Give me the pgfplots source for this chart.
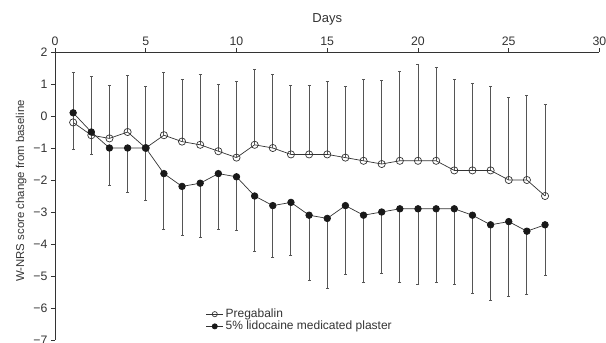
\documentclass[border=0pt]{standalone}
\usepackage{fontspec}
\setmainfont{Liberation Sans}
\usepackage{pgfplots}
\pgfplotsset{compat=1.18}
\usepackage{pgfplotstable}

\pgfplotstableread{
x y e
1 -0.2 1.57
2 -0.6 1.85
3 -0.7 1.67
4 -0.5 1.78
5 -1.0 1.92
6 -0.6 1.95
7 -0.8 1.94
8 -0.9 2.19
9 -1.1 2.09
10 -1.3 2.38
11 -0.9 2.36
12 -1.0 2.30
13 -1.2 2.17
14 -1.2 2.16
15 -1.2 2.27
16 -1.3 2.23
17 -1.4 2.53
18 -1.5 2.61
19 -1.4 2.78
20 -1.4 3.00
21 -1.4 2.92
22 -1.7 2.85
23 -1.7 2.73
24 -1.7 2.63
25 -2.0 2.58
26 -2.0 2.63
27 -2.5 2.86
}\pregabalin

\pgfplotstableread{
x y e
1 0.1 1.14
2 -0.5 0.69
3 -1.0 1.16
4 -1.0 1.40
5 -1.0 1.64
6 -1.8 1.75
7 -2.2 1.52
8 -2.1 1.70
9 -1.8 1.75
10 -1.9 1.68
11 -2.5 1.72
12 -2.8 1.63
13 -2.7 1.66
14 -3.1 2.05
15 -3.2 2.20
16 -2.8 2.14
17 -3.1 2.11
18 -3.0 1.91
19 -2.9 2.31
20 -2.9 2.35
21 -2.9 2.31
22 -2.9 2.35
23 -3.1 2.44
24 -3.4 2.35
25 -3.3 2.34
26 -3.6 1.98
27 -3.4 1.57
}\lidocaine

\definecolor{ln}{HTML}{333333}
\definecolor{eb}{HTML}{555555}

\begin{document}
\begin{tikzpicture}
\begin{axis}[
  scale only axis, width=544.5pt, height=288pt,
  xmin=0, xmax=30, ymin=-7, ymax=2,
  axis x line*=top, axis y line*=left,
  axis line style={ln, line width=0.8pt},
  xtick={0,5,...,30}, ytick={-7,-6,...,2},
  xticklabels={0,5,10,15,20,25,30},
  yticklabels={−7,−6,−5,−4,−3,−2,−1,0,1,2},
  tick align=outside, tick style={ln, line width=0.8pt},
  major tick length=4pt,
  tick label style={font=\fontsize{12.3}{14}\selectfont, text=ln},
  xticklabel style={yshift=-1pt},
  xlabel={Days},
  xlabel style={font=\fontsize{13}{15}\selectfont, text=ln, yshift=5pt},
  ylabel={W-NRS score change from baseline},
  ylabel style={font=\fontsize{11.4}{13}\selectfont, text=ln, at={(ticklabel cs:0.517)}},
  clip=false,
  legend style={draw=none, fill=none, at={(0.275,0.022)}, anchor=south west,
    font=\fontsize{12}{14}\selectfont, text=ln, row sep=0pt,
    inner sep=1pt, nodes={inner xsep=2pt, inner ysep=1pt}},
  legend cell align=left,
  legend image code/.code={
    \draw[#1, mark=none] (0pt,0pt) -- (17pt,0pt);
    \draw[#1, mark size=2.6pt] plot coordinates {(8.5pt,0pt)};
  },
]
\addplot[ln, line width=0.7pt, mark=o, mark size=3.6pt,
  mark options={fill=white, line width=0.7pt},
  error bars/.cd, y dir=plus, y explicit,
  error bar style={eb, line width=0.9pt},
  error mark options={eb, mark size=1.5pt, line width=0.9pt, rotate=90}]
  table[x=x, y=y, y error=e] {\pregabalin};
\addlegendentry{Pregabalin}
\addplot[ln, line width=0.7pt, mark=*, mark size=3.3pt,
  mark options={fill=black!90, draw=black!90},
  error bars/.cd, y dir=minus, y explicit,
  error bar style={eb, line width=0.9pt},
  error mark options={eb, mark size=1.5pt, line width=0.9pt, rotate=90}]
  table[x=x, y=y, y error=e] {\lidocaine};
\addlegendentry{5\% lidocaine medicated plaster}
\coordinate (p0) at (axis cs:0,-7);
\end{axis}
\pgfresetboundingbox
\path[use as bounding box] ([shift={(-55pt,-3pt)}]p0) rectangle ([shift={(551pt,340pt)}]p0);
\end{tikzpicture}
\end{document}
